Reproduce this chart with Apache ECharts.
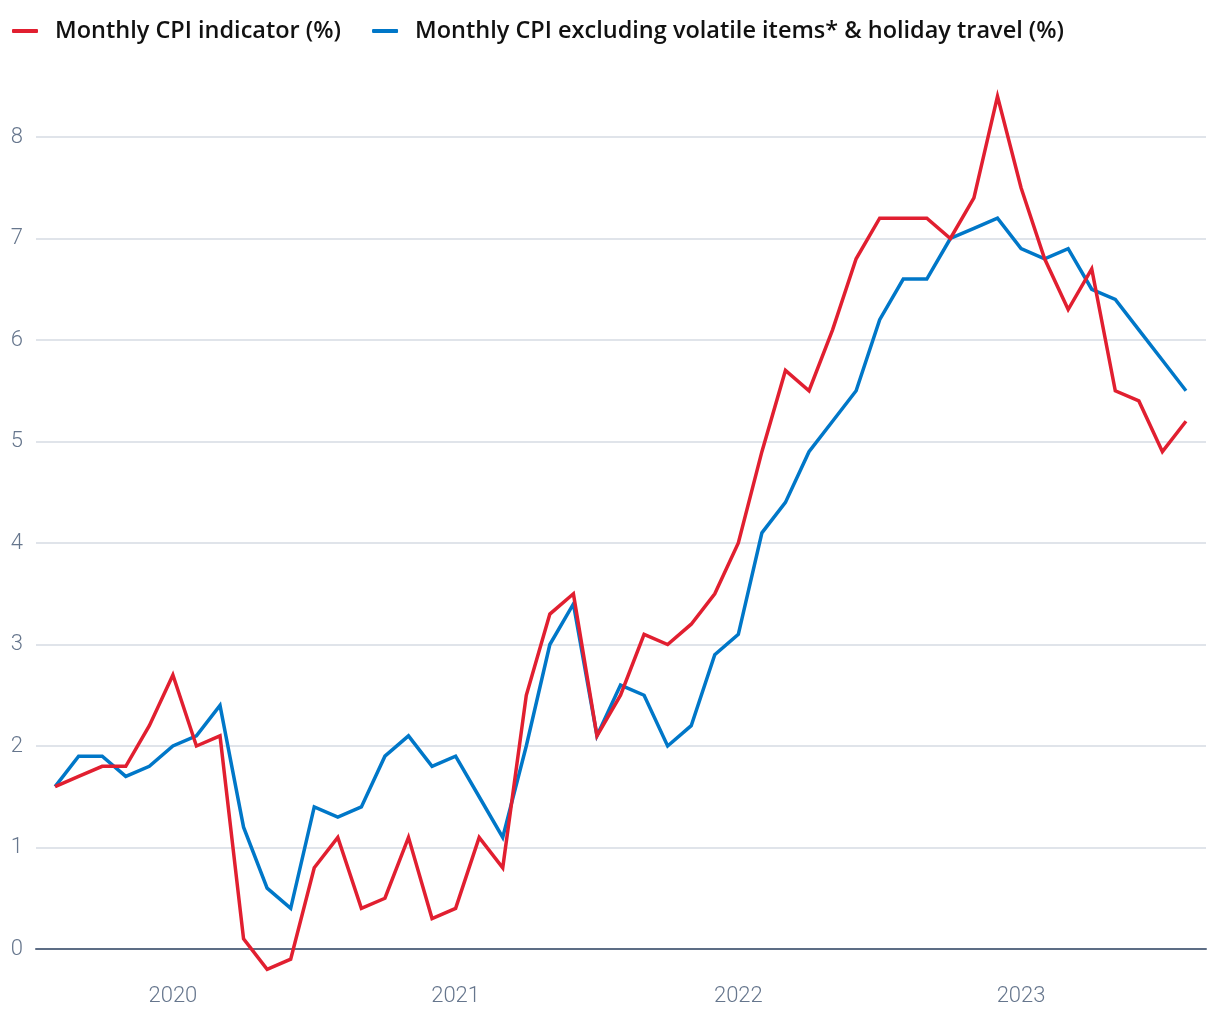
<!DOCTYPE html>
<html>
<head>
<meta charset="utf-8">
<script src="https://cdn.jsdelivr.net/npm/echarts@6/dist/echarts.min.js"></script>
<style>
  html, body { margin: 0; padding: 0; background: #ffffff; }
  #chart { width: 1220px; height: 1020px; }
</style>
</head>
<body>
<div id="chart"></div>
<script>
// Months Aug 2019 .. Aug 2023
const months = ['2019-08','2019-09','2019-10','2019-11','2019-12',
  '2020-01','2020-02','2020-03','2020-04','2020-05','2020-06','2020-07','2020-08','2020-09','2020-10','2020-11','2020-12',
  '2021-01','2021-02','2021-03','2021-04','2021-05','2021-06','2021-07','2021-08','2021-09','2021-10','2021-11','2021-12',
  '2022-01','2022-02','2022-03','2022-04','2022-05','2022-06','2022-07','2022-08','2022-09','2022-10','2022-11','2022-12',
  '2023-01','2023-02','2023-03','2023-04','2023-05','2023-06','2023-07','2023-08'];

const cpiIndicator = [1.6,1.7,1.8,1.8,2.2,
  2.7,2.0,2.1,0.1,-0.2,-0.1,0.8,1.1,0.4,0.5,1.1,0.3,
  0.4,1.1,0.8,2.5,3.3,3.5,2.1,2.5,3.1,3.0,3.2,3.5,
  4.0,4.9,5.7,5.5,6.1,6.8,7.2,7.2,7.2,7.0,7.4,8.4,
  7.5,6.8,6.3,6.7,5.5,5.4,4.9,5.2];

const cpiExVolatile = [1.6,1.9,1.9,1.7,1.8,
  2.0,2.1,2.4,1.2,0.6,0.4,1.4,1.3,1.4,1.9,2.1,1.8,
  1.9,1.5,1.1,2.0,3.0,3.4,2.1,2.6,2.5,2.0,2.2,2.9,
  3.1,4.1,4.4,4.9,5.2,5.5,6.2,6.6,6.6,7.0,7.1,7.2,
  6.9,6.8,6.9,6.5,6.4,6.1,5.8,5.5];

const yearTicks = ['2020-01','2021-01','2022-01','2023-01'];
const yearLabels = ['2020','2021','2022','2023'];
const yTicks = [0,1,2,3,4,5,6,7,8];

const seriesNames = ['Monthly CPI indicator (%)', 'Monthly CPI excluding volatile items* & holiday travel (%)'];

const toPairs = arr => arr.map((v, i) => [i, v]);
const tickIdx = yearTicks.map(m => months.indexOf(m));

const chart = echarts.init(document.getElementById('chart'), null, { renderer: 'canvas' });
const labelColor = '#66768d';
const fontFamily = 'Roboto, "Noto Sans", sans-serif';

chart.setOption({
  animation: false,
  backgroundColor: '#ffffff',
  textStyle: { fontFamily: fontFamily },
  legend: {
    left: 7,
    top: 12,
    itemWidth: 26,
    itemHeight: 4,
    itemGap: 31,
    icon: 'roundRect',
    data: seriesNames,
    textStyle: {
      fontFamily: '"Open Sans", "Noto Sans", sans-serif',
      fontSize: 23.5,
      fontWeight: 600,
      color: '#111111',
      lineHeight: 28,
      padding: [0, 0, 0, 12]
    }
  },
  grid: { left: 36, right: 14, top: 137, bottom: 71, containLabel: false },
  xAxis: {
    type: 'value',
    min: -0.81,
    max: 48.85,
    splitLine: { show: false },
    axisTick: { show: false },
    axisLine: { show: true, onZero: true, lineStyle: { color: '#5d6d85', width: 2 } },
    axisLabel: {
      customValues: tickIdx,
      formatter: v => yearLabels[tickIdx.indexOf(Math.round(v))] || '',
      color: labelColor,
      fontSize: 22,
      fontWeight: 300,
      margin: 36
    }
  },
  yAxis: {
    type: 'value',
    min: yTicks[0],
    max: yTicks[yTicks.length - 1],
    interval: 1,
    axisLine: { show: false },
    axisTick: { show: false },
    splitLine: { show: true, lineStyle: { color: '#d6dbe3', width: 1.5 } },
    axisLabel: {
      color: labelColor,
      fontSize: 22,
      fontWeight: 300,
      margin: 13,
      align: 'right'
    }
  },
  series: [
    {
      name: seriesNames[0],
      type: 'line',
      data: toPairs(cpiIndicator),
      clip: false,
      showSymbol: false,
      symbol: 'none',
      lineStyle: { color: '#e11f30', width: 3.5, join: 'miter' },
      itemStyle: { color: '#e11f30' },
      z: 3
    },
    {
      name: seriesNames[1],
      type: 'line',
      data: toPairs(cpiExVolatile),
      clip: false,
      showSymbol: false,
      symbol: 'none',
      lineStyle: { color: '#0077c8', width: 3.5, join: 'miter' },
      itemStyle: { color: '#0077c8' },
      z: 2
    }
  ]
});
</script>
</body>
</html>
